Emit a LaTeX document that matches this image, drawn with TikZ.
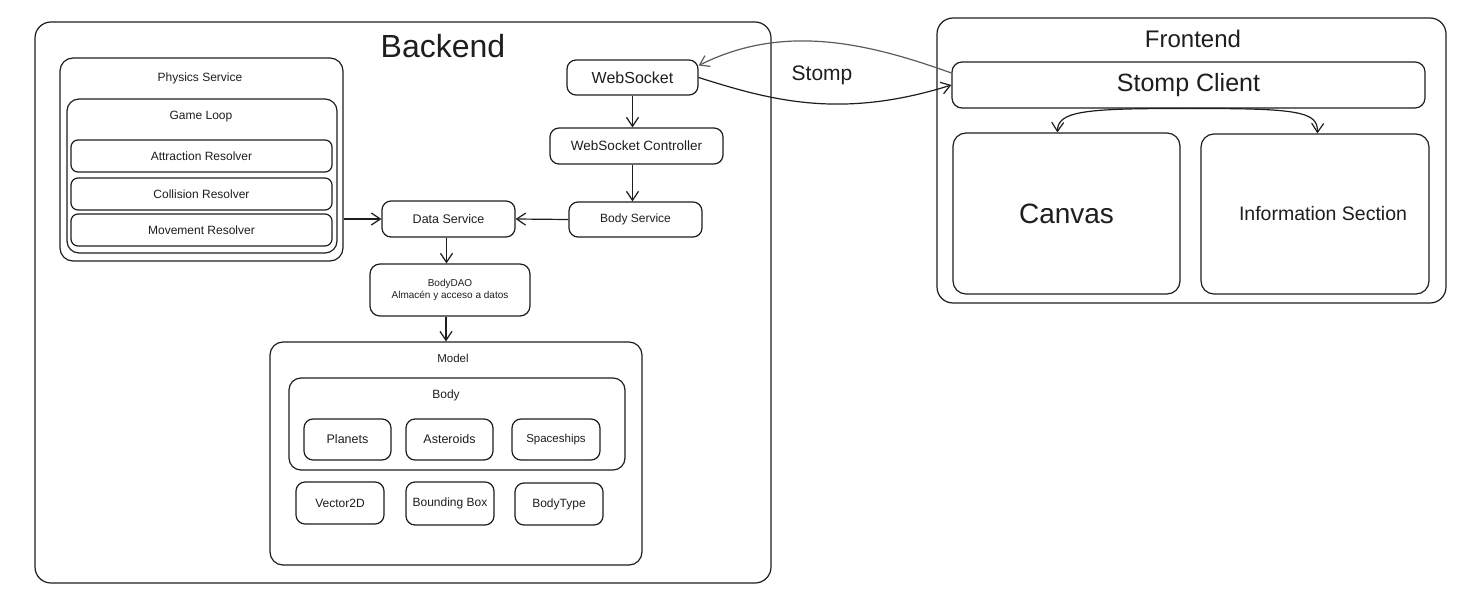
\documentclass[tikz,border=0pt]{standalone}
\usepackage{fontspec}
\setmainfont{Liberation Sans}
\usetikzlibrary{arrows.meta,calc}
\definecolor{ink}{HTML}{1E1E1E}
\definecolor{greyink}{HTML}{5C5C5C}
\tikzset{
  box/.style={draw=ink, line width=1.2pt, rounded corners=9pt, inner sep=0pt, text=ink, align=center},
  bigbox/.style={box, rounded corners=16pt},
  midbox/.style={box, rounded corners=13pt},
  lbl/.style={text=ink, inner sep=0pt, align=center},
  arr/.style={draw=ink, line width=1.2pt, -{Straight Barb[length=9pt,width=12pt,line width=1.2pt]}},
  garr/.style={arr, draw=greyink},
}
\begin{document}
\begin{tikzpicture}[x=1pt,y=-1pt]
\useasboundingbox (0,0) rectangle (1484,610);
\fill[white] (0,0) rectangle (1484,610);

% Backend
\node[bigbox, minimum width=736pt, minimum height=561pt] (backend) at (403,302.5) {};
\node[lbl, font=\fontsize{32}{36}\selectfont] (backendt) at (443,46) {Backend};

% Physics service
\node[midbox, minimum width=283pt, minimum height=203pt] (physics) at (201.5,159.5) {};
\node[lbl, font=\fontsize{12}{14}\selectfont] (physicst) at (200,78) {Physics Service};
\node[midbox, rounded corners=12pt, minimum width=270pt, minimum height=154pt] (loop) at (202,176) {};
\node[lbl, font=\fontsize{12}{14}\selectfont] (loopt) at (201,117) {Game Loop};
\node[box, rounded corners=7pt, minimum width=261pt, minimum height=32pt, font=\fontsize{12}{14}\selectfont] (attr) at (201.5,156) {Attraction Resolver};
\node[box, rounded corners=7pt, minimum width=261pt, minimum height=32pt, font=\fontsize{12}{14}\selectfont] (coll) at (201.5,194) {Collision Resolver};
\node[box, rounded corners=7pt, minimum width=261pt, minimum height=32pt, font=\fontsize{12}{14}\selectfont] (move) at (201.5,230) {Movement Resolver};

% Services
\node[box, minimum width=133pt, minimum height=36pt, font=\fontsize{12.5}{14}\selectfont] (ds) at (448.5,219) {Data Service};
\node[box, minimum width=133pt, minimum height=35pt, font=\fontsize{12}{14}\selectfont] (bs) at (635.5,219.5) {Body Service};
\node[box, minimum width=131pt, minimum height=35pt, font=\fontsize{16}{18}\selectfont] (ws) at (632.5,77.5) {WebSocket};
\node[box, minimum width=173pt, minimum height=36pt, font=\fontsize{13.5}{16}\selectfont] (wsc) at (636.5,146) {WebSocket Controller};
\node[box, rounded corners=10pt, minimum width=160pt, minimum height=52pt, font=\fontsize{10}{12}\selectfont] (dao) at (450,290) {BodyDAO\\Almacén y acceso a datos};

% Model
\node[midbox, minimum width=372pt, minimum height=223pt] (model) at (456,453.5) {};
\node[lbl, font=\fontsize{11.5}{14}\selectfont] (modelt) at (453,358) {Model};
\node[midbox, rounded corners=12pt, minimum width=336pt, minimum height=92pt] (body) at (457,424) {};
\node[lbl, font=\fontsize{12}{14}\selectfont] (bodyt) at (446,395) {Body};
\node[box, minimum width=87pt, minimum height=41pt, font=\fontsize{12.5}{14}\selectfont] (planets) at (347.5,439.5) {Planets};
\node[box, minimum width=87pt, minimum height=41pt, font=\fontsize{12.5}{14}\selectfont] (aster) at (449.5,439.5) {Asteroids};
\node[box, minimum width=88pt, minimum height=41pt, font=\fontsize{11.5}{14}\selectfont] (ships) at (556,439.5) {Spaceships};
\node[box, minimum width=88pt, minimum height=42pt, font=\fontsize{12}{14}\selectfont] (vec) at (340,503) {Vector2D};
\node[box, minimum width=88pt, minimum height=43pt, font=\fontsize{12}{14}\selectfont] (bbox) at (450,503.5) {Bounding Box};
\node[box, minimum width=88pt, minimum height=42pt, font=\fontsize{12}{14}\selectfont] (btype) at (559,504) {BodyType};

% Frontend
\node[bigbox, minimum width=509pt, minimum height=285pt] (front) at (1191.5,160.5) {};
\node[lbl, font=\fontsize{24}{28}\selectfont] (frontt) at (1193,39) {Frontend};
\node[box, rounded corners=10pt, minimum width=473pt, minimum height=46pt, font=\fontsize{25}{28}\selectfont] (sc) at (1188.5,85) {Stomp Client};
\node[midbox, minimum width=227pt, minimum height=161pt, font=\fontsize{28}{32}\selectfont] (canvas) at (1066.5,213.5) {Canvas};
\node[midbox, minimum width=228pt, minimum height=160pt, font=\fontsize{19.5}{22}\selectfont] (info) at (1315,214) {\hspace*{16pt}Information Section};

% Stomp label
\node[lbl, font=\fontsize{21}{24}\selectfont] (stomp) at (822,75) {Stomp};

% Connectors
\draw[arr] (physics.east |- ds.west) -- (ds.west);
\draw[arr] (bs.west) -- (ds.east);
\draw[arr] (ws.south) -- (ws.south |- wsc.north);
\draw[arr] (ws.south |- wsc.south) -- (ws.south |- bs.north);
\draw[arr] ([xshift=-2pt]ds.south) -- ([xshift=-2pt]ds.south |- dao.north);
\draw[arr] ([xshift=-4pt]dao.south) -- ([xshift=-4pt]dao.south |- model.north);

\draw[garr] ([yshift=12pt]sc.west) .. controls (860,40) and (780,25) .. ([yshift=12pt]ws.east);
\draw[arr] (ws.east) .. controls (770,100) and (840,120) .. (sc.west);

\draw[arr] (sc.south) .. controls (1080,108) and (1058,112) .. ([xshift=105pt]canvas.north west);
\draw[arr] (sc.south) .. controls (1300,108) and (1318,112) .. ([xshift=117pt]info.north west);
\end{tikzpicture}
\end{document}
